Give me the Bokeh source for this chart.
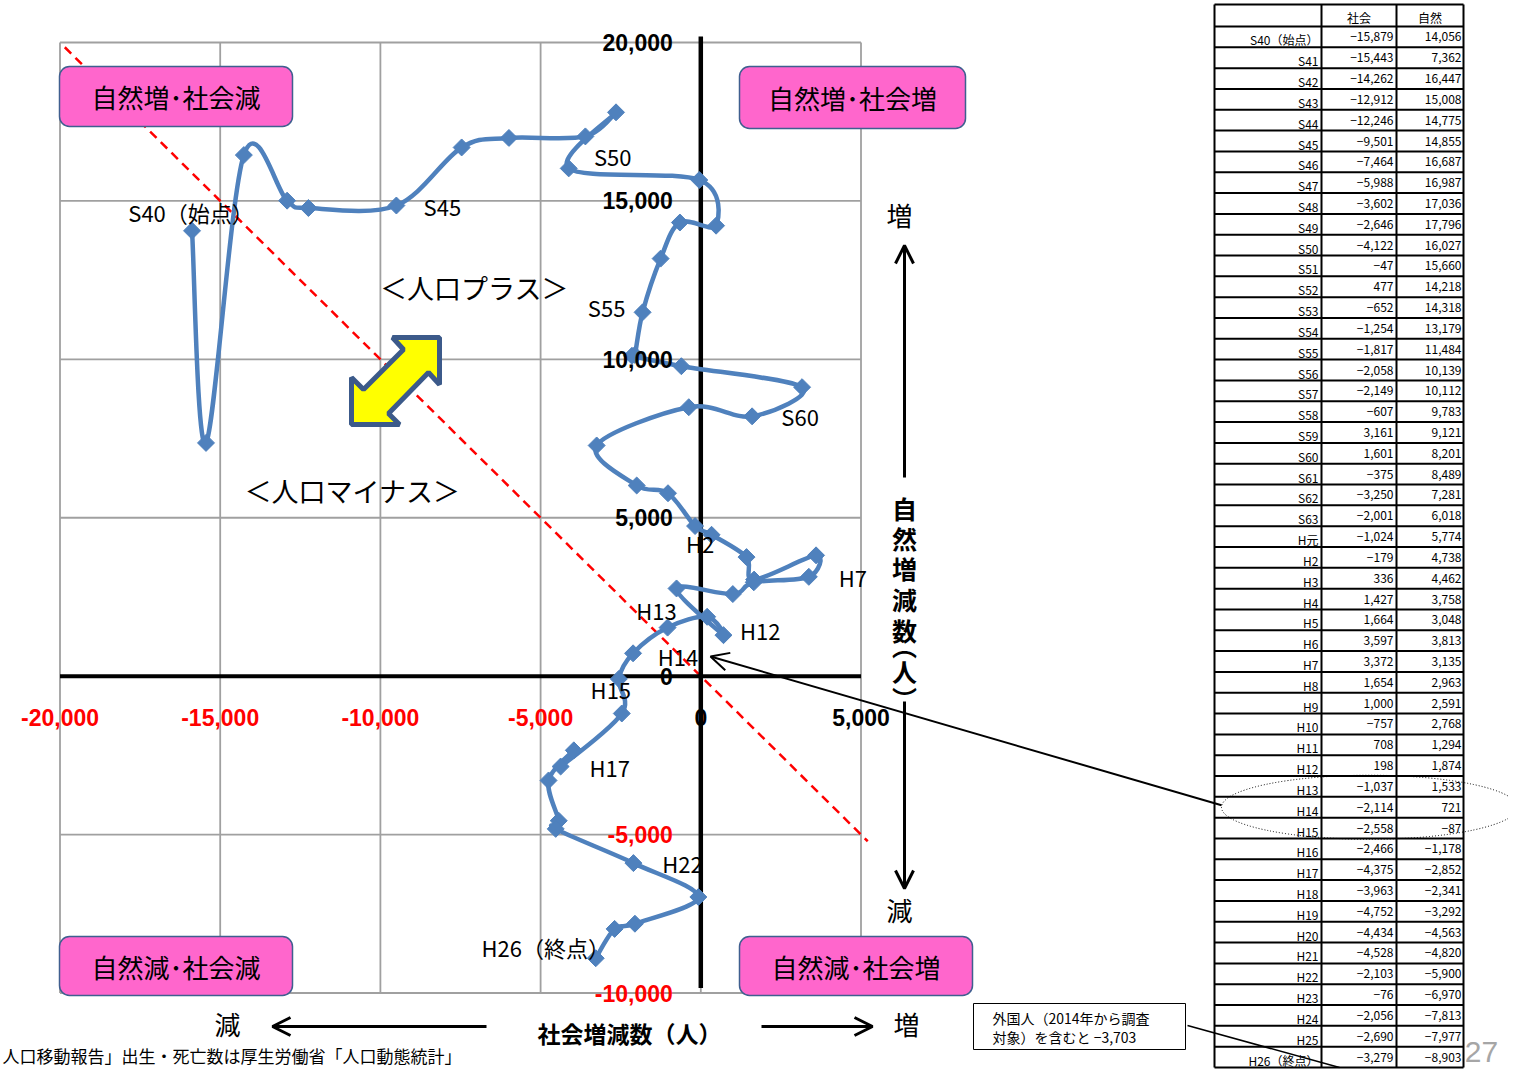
import numpy as np
from bokeh.plotting import figure
from bokeh.models import Range1d, BoxAnnotation, Arrow, OpenHead
from bokeh.core.properties import value
from bokeh.embed import file_html
from bokeh.resources import INLINE

# ---------------- data ----------------
years = ["S40（始点）", "S41", "S42", "S43", "S44", "S45", "S46", "S47", "S48", "S49",
         "S50", "S51", "S52", "S53", "S54", "S55", "S56", "S57", "S58", "S59",
         "S60", "S61", "S62", "S63", "H元", "H2", "H3", "H4", "H5", "H6",
         "H7", "H8", "H9", "H10", "H11", "H12", "H13", "H14", "H15", "H16",
         "H17", "H18", "H19", "H20", "H21", "H22", "H23", "H24", "H25", "H26（終点）"]
social = [-15879, -15443, -14262, -12912, -12246, -9501, -7464, -5988, -3602, -2646,
          -4122, -47, 477, -652, -1254, -1817, -2058, -2149, -607, 3161,
          1601, -375, -3250, -2001, -1024, -179, 336, 1427, 1664, 3597,
          3372, 1654, 1000, -757, 708, 198, -1037, -2114, -2558, -2466,
          -4375, -3963, -4752, -4434, -4528, -2103, -76, -2056, -2690, -3279]
natural = [14056, 7362, 16447, 15008, 14775, 14855, 16687, 16987, 17036, 17796,
           16027, 15660, 14218, 14318, 13179, 11484, 10139, 10112, 9783, 9121,
           8201, 8489, 7281, 6018, 5774, 4738, 4462, 3758, 3048, 3813,
           3135, 2963, 2591, 2768, 1294, 1874, 1533, 721, -87, -1178,
           -2852, -2341, -3292, -4563, -4820, -5900, -6970, -7813, -7977, -8903]

x_ticks = [-20000, -15000, -10000, -5000, 0, 5000]
y_ticks = [-10000, -5000, 0, 5000, 10000, 15000, 20000]
x_tick_labels = ["-20,000", "-15,000", "-10,000", "-5,000", "0", "5,000"]
y_tick_labels = ["-10,000", "-5,000", "0", "5,000", "10,000", "15,000", "20,000"]

table_headers = ["社会", "自然"]
quadrant_labels = ["自然増･社会減", "自然増･社会増", "自然減･社会減", "自然減･社会増"]
labelled_points = ["S40（始点）", "S45", "S50", "S55", "S60", "H2", "H7", "H13",
                   "H12", "H14", "H15", "H17", "H22", "H26（終点）"]
note_lines = ["外国人（2014年から調査", "対象）を含むと −3,703"]
footer_text = "人口移動報告」出生・死亡数は厚生労働省「人口動態統計」"

# ---------------- layout / style ----------------
W, H = 1508, 1069
OFF = 1
PL, PR, PT, PB = 60.5, 861.5, 43.0, 993.5     # page pixels of the plot box
XMIN, XMAX, YMIN, YMAX = -20000, 5000, -10000, 20000
SX = (PR - PL) / (XMAX - XMIN)
SY = (PB - PT) / (YMAX - YMIN)

x_start = XMIN - (PL - OFF) / SX
x_end = XMIN + (OFF + W - PL) / SX
y_end = YMAX + (PT - OFF) / SY
y_start = YMAX - (OFF + H - PT) / SY

BLUE = "#4F81BD"
JP = value("Noto Sans CJK JP")
LAT = value("Liberation Sans")

# pixel offsets of the data labels from their points (dx right, dy down)
label_offsets = {
    "S40（始点）": (-1, -19), "S45": (46, 0), "S50": (44, -12), "S55": (-36, -5),
    "S60": (48, 0), "H2": (5, 17), "H7": (44, 0), "H13": (-11, -18),
    "H12": (53, 13), "H14": (45, 3), "H15": (-8, 10), "H17": (49, 0),
    "H22": (49, 0), "H26（終点）": (-50, -11),
}

p = figure(width=W, height=H, x_range=Range1d(x_start, x_end),
           y_range=Range1d(y_start, y_end), output_backend="svg",
           toolbar_location=None, x_axis_location=None, y_axis_location=None,
           min_border=0, title=None)
p.grid.visible = False
p.outline_line_color = None
p.background_fill_color = "white"
p.extra_x_ranges = {"px": Range1d(OFF, OFF + W)}
p.extra_y_ranges = {"px": Range1d(OFF + H, OFF)}

PX = dict(x_range_name="px", y_range_name="px")


def ptext(x, y, txt, size, color="black", align="center", baseline="middle",
          bold=False, angle=0, level=None, font=JP):
    kw = dict(x=[x], y=[y], text=[txt], text_font=font, text_font_size=f"{size}px",
              text_color=color, text_align=align, text_baseline=baseline,
              text_font_style="bold" if bold else "normal", angle=angle, **PX)
    if level:
        kw["level"] = level
    return p.text(**kw)


# ---------------- chart grid ----------------
gx = [t for t in x_ticks]
p.segment(x0=gx, y0=[YMIN] * len(gx), x1=gx, y1=[YMAX] * len(gx),
          line_color="#A0A0A0", line_width=1.8)
p.segment(x0=[XMIN] * len(y_ticks), y0=y_ticks, x1=[XMAX] * len(y_ticks), y1=y_ticks,
          line_color="#A0A0A0", line_width=1.8)

# zero-change line y = -x
zx = np.array([XMIN + 150, XMAX + 210])
p.line(zx, -zx, line_color="red", line_width=2.5, line_dash="9 6")

# axes through the origin
p.segment(x0=[XMIN], y0=[0], x1=[XMAX], y1=[0], line_color="black", line_width=4)
p.segment(x0=[0], y0=[YMAX + 6 / SY], x1=[0], y1=[YMIN + 5 / SY],
          line_color="black", line_width=4.5)

# yellow double arrow
ax = [440, 440, 429, 389, 400, 352, 352, 364, 404, 393]
ay = [338, 385, 373, 414, 425, 425, 378, 390, 350, 338]
p.patch(ax, ay, fill_color="#FFFF00", line_color="#3C5A8A", line_width=5, **PX)

ptext(475, 288, "＜人口プラス＞", 27)
ptext(353, 491, "＜人口マイナス＞", 27)

# ---------------- series (smoothed like the original) ----------------
P = np.column_stack([social, natural]).astype(float)
n = len(P)
x0s, y0s, x1s, y1s, cx0, cy0, cx1, cy1 = ([] for _ in range(8))
for i in range(n - 1):
    a = P[i]
    b = P[i + 1]
    prev = P[i - 1] if i > 0 else P[i]
    nxt = P[i + 2] if i + 2 < n else P[i + 1]
    c0 = a + (b - prev) / 6.0
    c1 = b - (nxt - a) / 6.0
    x0s.append(a[0]); y0s.append(a[1]); x1s.append(b[0]); y1s.append(b[1])
    cx0.append(c0[0]); cy0.append(c0[1]); cx1.append(c1[0]); cy1.append(c1[1])
p.bezier(x0=x0s, y0=y0s, x1=x1s, y1=y1s, cx0=cx0, cy0=cy0, cx1=cx1, cy1=cy1,
         line_color=BLUE, line_width=4.5)
p.scatter(social, natural, marker="square", angle=np.pi / 4, size=12,
          fill_color=BLUE, line_color=BLUE)

# data labels
lx, ly, lt = [], [], []
for name in labelled_points:
    i = years.index(name)
    dxp, dyp = label_offsets[name]
    lx.append(social[i] + dxp / SX)
    ly.append(natural[i] - dyp / SY)
    lt.append(name)
p.text(x=lx, y=ly, text=lt, text_font=JP, text_font_size="22px", text_color="black",
       text_align="center", text_baseline="middle")

# tick labels
p.text(x=x_ticks, y=[-41 / SY] * len(x_ticks), text=x_tick_labels,
       text_color=["red" if v < 0 else "black" for v in x_ticks],
       text_font=LAT, text_font_style="bold", text_font_size="23px",
       text_align="center", text_baseline="middle")
p.text(x=[-28 / SX] * len(y_ticks), y=y_ticks, text=y_tick_labels,
       text_color=["red" if v < 0 else "black" for v in y_ticks],
       text_font=LAT, text_font_style="bold", text_font_size="23px",
       text_align="right", text_baseline="middle")

# ---------------- quadrant boxes ----------------
qboxes = [(60, 293, 67, 127), (740, 966, 67, 129), (60, 293, 937, 996), (740, 973, 937, 996)]
for (l, r, t, b), lab in zip(qboxes, quadrant_labels):
    p.add_layout(BoxAnnotation(left=l, right=r, top=t, bottom=b, fill_color="#FF66CC",
                               fill_alpha=1.0, line_color="#3F5F8F", line_width=1.5,
                               line_alpha=1.0, border_radius=10, **PX))
    ptext((l + r) / 2, (t + b) / 2, lab, 26, level="overlay")

# ---------------- axis titles & arrows ----------------
ptext(900, 215, "増", 26)
ptext(900, 910, "減", 26)
p.add_layout(Arrow(x_start=905, y_start=478, x_end=905, y_end=246,
                   end=OpenHead(size=18, line_width=3), line_width=3, **PX))
p.add_layout(Arrow(x_start=905, y_start=702, x_end=905, y_end=889,
                   end=OpenHead(size=18, line_width=3), line_width=3, **PX))
vchars = ["自", "然", "増", "減", "数", "︵", "人", "︶"]
vys = [508, 538, 568, 599, 630, 645, 671, 698]
for ch, yy in zip(vchars, vys):
    ptext(905, yy, ch, 25, bold=True)

ptext(228, 1024, "減", 26)
ptext(907, 1024, "増", 26)
p.add_layout(Arrow(x_start=487, y_start=1027, x_end=273, y_end=1027,
                   end=OpenHead(size=18, line_width=3), line_width=3, **PX))
p.add_layout(Arrow(x_start=762, y_start=1027, x_end=873, y_end=1027,
                   end=OpenHead(size=18, line_width=3), line_width=3, **PX))
ptext(630, 1033, "社会増減数（人）", 23, bold=True)

ptext(3, 1056, footer_text, 17, align="left")

# ---------------- note box ----------------
p.quad(left=[974], right=[1186], top=[1004], bottom=[1050], fill_color="white",
       line_color="black", line_width=1, **PX)
ptext(993, 1018, note_lines[0], 14, align="left")
ptext(993, 1037, note_lines[1], 14, align="left")
p.segment(x0=[1188], y0=[1026], x1=[1340], y1=[1068], line_color="black",
          line_width=1.5, **PX)

# ---------------- table ----------------
TL, TC1, TC2, TR = 1215, 1322, 1397, 1464
TTOP, THEAD = 5, 27
RH = (OFF + H - 2 - THEAD) / len(years)
row_lines = [TTOP, THEAD] + [THEAD + RH * (k + 1) for k in range(len(years))]
TBOT = row_lines[-1]
p.segment(x0=[TL] * len(row_lines), y0=row_lines, x1=[TR] * len(row_lines), y1=row_lines,
          line_color="black", line_width=2, **PX)
p.segment(x0=[TL, TC1, TC2, TR], y0=[TTOP] * 4, x1=[TL, TC1, TC2, TR], y1=[TBOT] * 4,
          line_color="black", line_width=2, **PX)
ptext((TC1 + TC2) / 2, 18, table_headers[0], 12)
ptext((TC2 + TR) / 2, 18, table_headers[1], 12)

def fmt(v):
    return f"{v:,}".replace("-", "−")

rc = [THEAD + RH * (k + 0.5) for k in range(len(years))]
p.text(x=[TC1 - 3] * len(years), y=[c + 3 for c in rc], text=years, text_font=JP,
       text_font_size="12px", text_align="right", text_baseline="middle", **PX)
p.text(x=[TC2 - 3] * len(years), y=rc, text=[fmt(v) for v in social], text_font=JP,
       text_font_size="12px", text_align="right", text_baseline="middle", **PX)
p.text(x=[TR - 2] * len(years), y=rc, text=[fmt(v) for v in natural], text_font=JP,
       text_font_size="12px", text_align="right", text_baseline="middle", **PX)

# highlight ellipse and pointer arrow (around H13-H15 rows)
ell_y = rc[years.index("H14")]
p.ellipse(x=[1370], y=[ell_y], width=296, height=64, width_units="screen",
          height_units="screen", fill_color=None, line_color="black",
          line_dash="1 2", line_width=1, **PX)
p.add_layout(Arrow(x_start=1222, y_start=ell_y - 2, x_end=711, y_end=657,
                   end=OpenHead(size=18, line_width=2), line_width=2, **PX))

ptext(1482, 1052, "27", 30, color="#A6A6A6", font=LAT)

open("out.html", "w").write(file_html(p, INLINE))
